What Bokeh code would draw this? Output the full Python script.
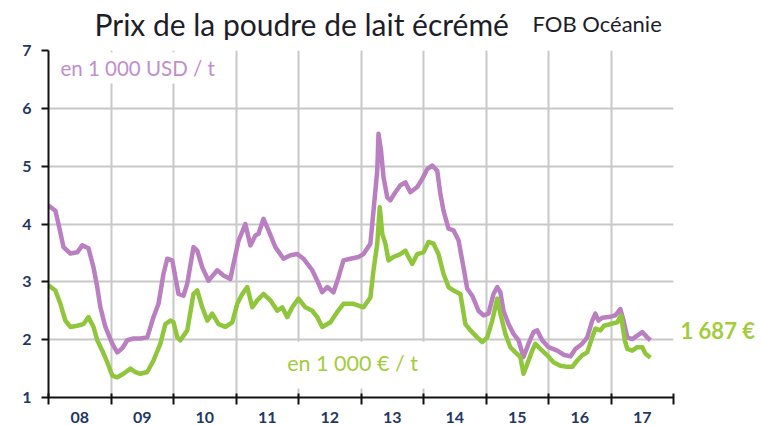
from bokeh.plotting import figure
from bokeh.layouts import column
from bokeh.models import FixedTicker, Label, BoxAnnotation, Range1d, LinearAxis
from bokeh.core.properties import value
from bokeh.embed import file_html
from bokeh.resources import INLINE

# ---------------- data ----------------
year_bounds = [2008, 2009, 2010, 2011, 2012, 2013, 2014, 2015, 2016, 2017, 2018]
year_labels = ["08", "09", "10", "11", "12", "13", "14", "15", "16", "17"]
y_ticks = [1, 2, 3, 4, 5, 6, 7]

usd_t = [2008.00, 2008.11, 2008.16, 2008.24, 2008.35, 2008.46, 2008.54, 2008.64, 2008.72, 2008.78,
         2008.83, 2008.91, 2009.02, 2009.10, 2009.18, 2009.26, 2009.36, 2009.47, 2009.58, 2009.68,
         2009.76, 2009.84, 2009.90, 2009.98, 2010.03, 2010.08, 2010.16, 2010.22, 2010.32, 2010.38,
         2010.46, 2010.56, 2010.70, 2010.80, 2010.91, 2010.96, 2011.04, 2011.15, 2011.23, 2011.31,
         2011.36, 2011.44, 2011.52, 2011.63, 2011.76, 2011.87, 2011.98, 2012.08, 2012.22, 2012.30,
         2012.38, 2012.46, 2012.56, 2012.64, 2012.72, 2012.83, 2012.96, 2013.04, 2013.15, 2013.20,
         2013.26, 2013.28, 2013.32, 2013.36, 2013.42, 2013.47, 2013.55, 2013.63, 2013.71, 2013.79,
         2013.90, 2013.98, 2014.06, 2014.14, 2014.22, 2014.27, 2014.32, 2014.40, 2014.48, 2014.56,
         2014.64, 2014.70, 2014.78, 2014.88, 2014.96, 2015.04, 2015.12, 2015.18, 2015.23, 2015.28,
         2015.36, 2015.44, 2015.52, 2015.60, 2015.68, 2015.76, 2015.82, 2015.90, 2016.00, 2016.14,
         2016.24, 2016.35, 2016.43, 2016.54, 2016.62, 2016.70, 2016.75, 2016.80, 2016.86, 2016.96,
         2017.07, 2017.15, 2017.20, 2017.26, 2017.34, 2017.42, 2017.50, 2017.58, 2017.63]
usd_v = [4.32, 4.23, 4.00, 3.60, 3.49, 3.51, 3.63, 3.58, 3.25, 2.91,
         2.56, 2.22, 1.93, 1.78, 1.85, 1.99, 2.02, 2.02, 2.04, 2.39,
         2.62, 3.14, 3.40, 3.37, 3.08, 2.79, 2.76, 2.97, 3.60, 3.54,
         3.25, 3.02, 3.20, 3.11, 3.05, 3.31, 3.71, 4.00, 3.63, 3.80,
         3.83, 4.09, 3.89, 3.60, 3.40, 3.46, 3.48, 3.40, 3.20, 3.02,
         2.82, 2.91, 2.82, 3.08, 3.37, 3.40, 3.43, 3.48, 3.66, 4.23,
         4.92, 5.56, 5.27, 4.81, 4.46, 4.41, 4.55, 4.67, 4.72, 4.55,
         4.64, 4.78, 4.95, 5.01, 4.92, 4.52, 4.23, 3.92, 3.89, 3.72,
         3.25, 2.88, 2.76, 2.50, 2.42, 2.45, 2.79, 2.91, 2.82, 2.50,
         2.27, 2.10, 1.99, 1.70, 1.93, 2.13, 2.16, 1.99, 1.87, 1.81,
         1.74, 1.71, 1.84, 1.93, 2.04, 2.33, 2.45, 2.33, 2.38, 2.39,
         2.42, 2.53, 2.33, 2.04, 2.01, 2.07, 2.13, 2.04, 1.99]

eur_t = [2008.00, 2008.11, 2008.19, 2008.27, 2008.35, 2008.46, 2008.56, 2008.64, 2008.72, 2008.78,
         2008.86, 2008.94, 2009.02, 2009.10, 2009.20, 2009.31, 2009.39, 2009.47, 2009.58, 2009.68,
         2009.79, 2009.87, 2009.95, 2010.00, 2010.06, 2010.11, 2010.22, 2010.32, 2010.38, 2010.46,
         2010.54, 2010.62, 2010.72, 2010.83, 2010.94, 2011.02, 2011.10, 2011.18, 2011.26, 2011.34,
         2011.44, 2011.55, 2011.66, 2011.74, 2011.82, 2011.90, 2012.00, 2012.11, 2012.22, 2012.30,
         2012.38, 2012.51, 2012.62, 2012.72, 2012.88, 2013.04, 2013.15, 2013.20, 2013.26, 2013.30,
         2013.34, 2013.39, 2013.44, 2013.52, 2013.63, 2013.71, 2013.76, 2013.82, 2013.90, 2014.00,
         2014.08, 2014.16, 2014.24, 2014.32, 2014.40, 2014.48, 2014.59, 2014.67, 2014.75, 2014.86,
         2014.94, 2015.02, 2015.10, 2015.18, 2015.23, 2015.31, 2015.39, 2015.47, 2015.55, 2015.60,
         2015.66, 2015.74, 2015.79, 2015.87, 2015.98, 2016.08, 2016.19, 2016.30, 2016.38, 2016.46,
         2016.54, 2016.62, 2016.70, 2016.75, 2016.83, 2016.89, 2016.99, 2017.10, 2017.16, 2017.22,
         2017.26, 2017.34, 2017.42, 2017.50, 2017.55, 2017.63]
eur_v = [2.94, 2.85, 2.62, 2.33, 2.22, 2.24, 2.27, 2.39, 2.22, 1.99,
         1.81, 1.61, 1.38, 1.35, 1.41, 1.50, 1.44, 1.41, 1.44, 1.64,
         1.93, 2.27, 2.33, 2.30, 2.04, 1.99, 2.16, 2.79, 2.85, 2.56,
         2.33, 2.45, 2.27, 2.22, 2.30, 2.62, 2.79, 2.91, 2.56, 2.68,
         2.79, 2.68, 2.50, 2.56, 2.39, 2.56, 2.71, 2.56, 2.50, 2.39,
         2.22, 2.30, 2.48, 2.62, 2.62, 2.56, 2.73, 3.20, 3.66, 4.29,
         3.83, 3.66, 3.37, 3.43, 3.48, 3.54, 3.43, 3.31, 3.48, 3.51,
         3.69, 3.66, 3.48, 3.14, 2.91, 2.85, 2.79, 2.27, 2.16, 2.04,
         1.96, 2.04, 2.33, 2.71, 2.45, 2.10, 1.87, 1.78, 1.70, 1.41,
         1.58, 1.81, 1.93, 1.84, 1.73, 1.61, 1.55, 1.53, 1.53, 1.64,
         1.73, 1.78, 2.04, 2.19, 2.16, 2.24, 2.27, 2.30, 2.42, 1.99,
         1.84, 1.81, 1.87, 1.87, 1.76, 1.687]

title_main = "Prix de la poudre de lait écrémé"
title_sub = "FOB Océanie"
usd_label = "en 1 000 USD / t"
eur_label = "en 1 000 € / t"
last_label = "1 687 €"

# ---------------- styling ----------------
PURPLE = "#b97fc1"
GREEN = "#8fc63c"
NAVY = "#1f3864"
GRID = "#c8c8c8"
FONT = "Lato"
TITLE_COLOR = "#1e1e2a"

W = 761
H = 425
TH = 40            # height of the title strip
BL, BR = 48, 88    # left / right borders shared by both figures (frames aligned)

# ---- title strip (its frame uses pixel coordinates) ----
t = figure(width=W, height=TH, x_range=Range1d(BL, W - BR), y_range=Range1d(TH, 0),
           x_axis_type=None, y_axis_type=None, title=None,
           output_backend="svg", toolbar_location=None,
           min_border_left=BL, min_border_right=BR, min_border_top=0, min_border_bottom=0)
t.outline_line_color = None
t.grid.visible = False
t.text(x=[94], y=[23], text=[title_main], text_font=value(FONT), text_font_size="30px",
       text_color=TITLE_COLOR, text_baseline="alphabetic", text_align="left")
t.text(x=[532], y=[23], text=[title_sub], text_font=value(FONT), text_font_size="22px",
       text_color=TITLE_COLOR, text_baseline="alphabetic", text_align="left")

# ---- main chart ----
p = figure(width=W, height=H - TH, title=None,
           x_range=Range1d(year_bounds[0], year_bounds[-1]),
           y_range=Range1d(y_ticks[0], y_ticks[-1]),
           output_backend="svg", toolbar_location=None,
           min_border_left=BL, min_border_right=BR, min_border_top=10, min_border_bottom=28)
p.outline_line_color = None
p.background_fill_color = "white"
p.border_fill_color = "white"

# x axis: labels at mid-year, tick marks at year boundaries
mids = [b + 0.5 for b in year_bounds[:-1]]
xa = p.xaxis[0]
xa.ticker = FixedTicker(ticks=mids, minor_ticks=year_bounds)
xa.major_label_overrides = {m: lab for m, lab in zip(mids, year_labels)}
xa.major_tick_in = 0
xa.major_tick_out = 0
xa.major_tick_line_color = None
xa.minor_tick_in = 4
xa.minor_tick_out = 7
xa.minor_tick_line_width = 2
xa.minor_tick_line_color = "#111111"
xa.axis_line_width = 2
xa.axis_line_color = "#111111"
xa.major_label_standoff = 7
xa.major_label_text_font = FONT
xa.major_label_text_font_size = "16px"
xa.major_label_text_font_style = "bold"
xa.major_label_text_color = NAVY

ya = p.yaxis[0]
ya.ticker = FixedTicker(ticks=y_ticks)
ya.major_tick_in = 0
ya.major_tick_out = 7
ya.major_tick_line_width = 2
ya.major_tick_line_color = "#111111"
ya.minor_tick_line_color = None
ya.axis_line_width = 2
ya.axis_line_color = "#111111"
ya.major_label_standoff = 10
ya.major_label_text_font = FONT
ya.major_label_text_font_size = "16px"
ya.major_label_text_font_style = "bold"
ya.major_label_text_color = NAVY

# right-hand annotation of the last value, as an axis label
last_label_y = 2.16
ra = LinearAxis(ticker=FixedTicker(ticks=[last_label_y]),
                major_label_overrides={last_label_y: last_label})
ra.axis_line_color = None
ra.major_tick_line_color = None
ra.minor_tick_line_color = None
ra.major_tick_in = 0
ra.major_tick_out = 0
ra.major_label_standoff = 7
ra.major_label_text_font = FONT
ra.major_label_text_font_size = "22px"
ra.major_label_text_font_style = "bold"
ra.major_label_text_color = "#a2cd3a"
p.add_layout(ra, "right")

p.xgrid.ticker = FixedTicker(ticks=year_bounds)
p.ygrid.ticker = FixedTicker(ticks=y_ticks)
for g in (p.xgrid[0], p.ygrid[0]):
    g.grid_line_color = GRID
    g.grid_line_width = 2

# white boxes behind the in-plot unit labels
p.add_layout(BoxAnnotation(left=2008.03, right=2010.83, top=6.97, bottom=6.43,
                           fill_color="white", fill_alpha=1, line_color=None))
p.add_layout(BoxAnnotation(left=2011.47, right=2014.11, top=1.965, bottom=1.155,
                           fill_color="white", fill_alpha=1, line_color=None))

p.line(usd_t, usd_v, line_color=PURPLE, line_width=4.5, line_join="round")
p.line(eur_t, eur_v, line_color=GREEN, line_width=4.5, line_join="round")

p.add_layout(Label(x=2008.19, y=6.70, text=usd_label, text_font=FONT, text_font_size="20.5px",
                   text_color="#c28ecb", text_baseline="middle", text_align="left"))
p.add_layout(Label(x=2011.82, y=1.59, text=eur_label, text_font=FONT, text_font_size="21.5px",
                   text_color="#a2cd3a", text_baseline="middle", text_align="left"))

layout = column(t, p, spacing=0)
open("out.html", "w").write(file_html(layout, INLINE))
